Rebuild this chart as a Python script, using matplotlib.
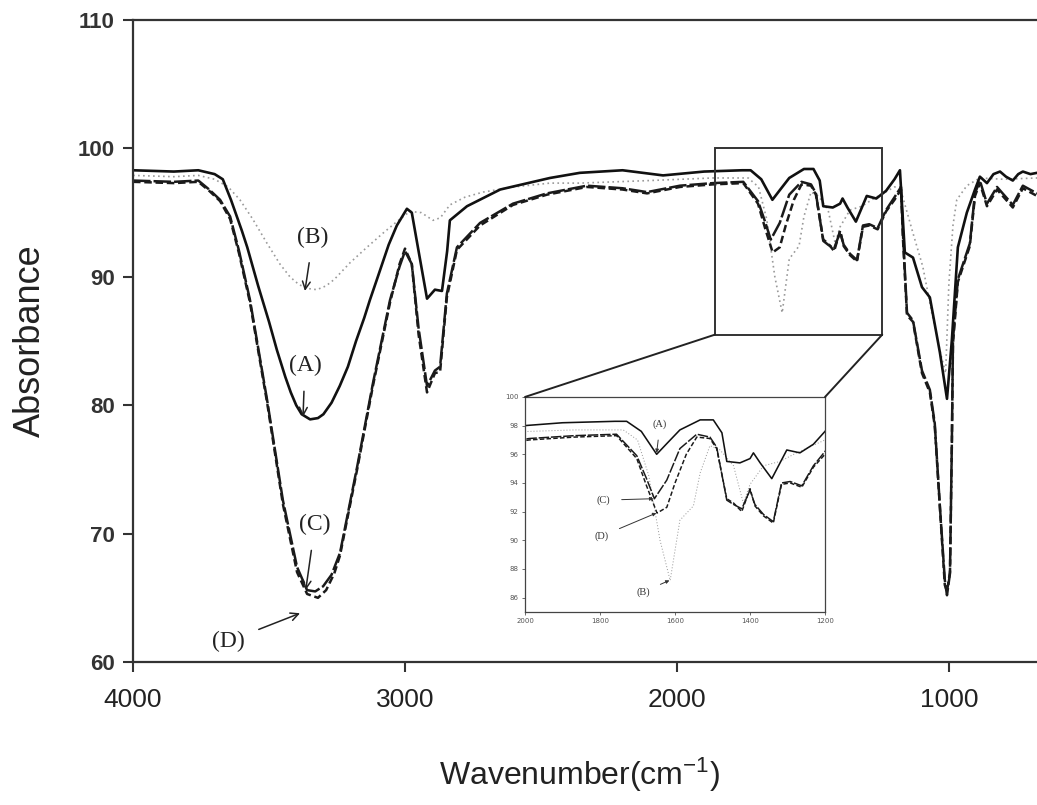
import matplotlib
matplotlib.use("Agg")
import matplotlib.pyplot as plt
from matplotlib.patches import Rectangle, ConnectionPatch

# FTIR spectra (wavenumber in cm-1, descending)
wn_a = [4000, 3850, 3760, 3700, 3670, 3640, 3600, 3580, 3540, 3500, 3471, 3440, 3420, 3400,
        3380, 3349, 3320, 3300, 3270, 3240, 3210, 3180, 3150, 3129, 3100, 3060, 3030, 2993,
        2975, 2950, 2919, 2890, 2864, 2845, 2835, 2772, 2650, 2467, 2357,
        2200, 2051, 1900, 1760, 1729, 1690, 1649, 1620, 1587, 1533, 1498, 1475, 1462, 1427,
        1400, 1391, 1373, 1342, 1302, 1267, 1231, 1200, 1180, 1162, 1132, 1099, 1070, 1033,
        1007, 989, 967, 934, 904, 886, 860, 836, 812, 790, 765, 745, 728, 700, 676]
abs_a = [98.3, 98.2, 98.3, 98.0, 97.6, 96.0, 93.6, 92.3, 89.3, 86.5, 84.3, 82.2, 81.0, 80.0,
         79.3, 78.9, 79.0, 79.3, 80.2, 81.5, 83.0, 85.0, 86.8, 88.2, 90.0, 92.5, 94.0, 95.3,
         95.0, 92.0, 88.3, 89.0, 88.9, 92.0, 94.4, 95.5, 96.8, 97.7, 98.1,
         98.3, 97.9, 98.2, 98.3, 98.3, 97.6, 96.0, 96.8, 97.7, 98.4, 98.4, 97.5, 95.5, 95.4,
         95.7, 96.1, 95.4, 94.3, 96.3, 96.1, 96.7, 97.6, 98.3, 91.9, 91.5, 89.2, 88.4, 84.1,
         80.5, 85.1, 92.3, 95.0, 96.8, 97.8, 97.3, 98.0, 98.2, 97.8, 97.5, 98.0, 98.2, 98.0, 98.1]

wn_b = [4000, 3850, 3760, 3700, 3650, 3607, 3560, 3507, 3460, 3423, 3390, 3360, 3324, 3290,
        3260, 3202, 3140, 3081, 3030, 2982, 2940, 2897, 2870, 2835, 2780, 2713, 2600, 2467,
        2357, 2100, 1868, 1738, 1700, 1670, 1640, 1613,
        1587, 1551, 1533, 1507, 1480, 1444, 1418, 1400, 1364, 1320, 1276, 1200, 1180, 1132,
        1096, 1063, 1030, 1012, 1000, 985, 971, 934, 886, 800, 676]
abs_b = [97.9, 97.8, 97.9, 97.6, 97.0, 96.0, 94.5, 92.6, 91.0, 90.0, 89.4, 89.1, 89.0, 89.3,
         89.8, 91.1, 92.3, 93.4, 94.3, 95.1, 95.0, 94.4, 94.6, 95.6, 96.2, 96.6, 97.0, 97.3,
         97.3, 97.5, 97.7, 97.7, 97.0, 94.5, 90.0, 87.2,
         91.4, 92.4, 94.7, 96.6, 96.3, 95.2, 92.6, 93.9, 95.2, 95.5, 96.1, 97.0, 97.0, 93.4,
         90.8, 87.2, 84.0, 82.5, 89.5, 94.0, 96.0, 97.1, 97.7, 97.6, 97.7]

wn_c = [4000, 3850, 3760, 3720, 3680, 3643, 3610, 3570, 3507, 3449, 3397, 3360, 3330, 3301,
        3270, 3239, 3176, 3118, 3055, 3020, 3000, 2975, 2950, 2919, 2890, 2871, 2846, 2809,
        2724, 2603, 2478, 2331,
        2200, 2110, 1989, 1868, 1756, 1702, 1676, 1655, 1622, 1587, 1542, 1507, 1489, 1462,
        1444, 1422, 1400, 1387, 1364, 1338, 1316, 1293, 1262, 1231, 1200, 1176, 1169, 1154,
        1132, 1099, 1070, 1052, 1033, 1015, 1007, 996, 989, 985, 967, 923, 904, 886, 860,
        823, 765, 728, 676]
abs_c = [97.5, 97.4, 97.5, 96.8, 96.0, 94.7, 92.0, 88.2, 80.4, 72.6, 67.4, 65.6, 65.5, 65.9,
         66.8, 68.5, 75.2, 81.7, 88.2, 90.8, 92.0, 91.0, 86.0, 81.5, 82.7, 83.0, 88.7, 92.3,
         94.2, 95.7, 96.5, 97.1,
         96.9, 96.6, 97.1, 97.3, 97.4, 95.9, 94.3, 92.9, 94.2, 96.4, 97.4, 97.2, 96.5, 92.8,
         92.5, 92.2, 93.5, 92.5, 91.8, 91.3, 94.0, 94.1, 93.8, 95.2, 96.2, 97.0, 93.4, 87.2,
         86.6, 82.7, 81.2, 78.6, 72.1, 66.4, 65.2, 66.9, 77.3, 85.1, 89.8, 92.6, 96.5, 97.5, 95.7,
         97.0, 95.6, 97.1, 96.5]

wn_d = [4000, 3850, 3760, 3720, 3680, 3643, 3610, 3570, 3507, 3449, 3397, 3360, 3320, 3290,
        3260, 3239, 3176, 3118, 3055, 3020, 3000, 2975, 2950, 2919, 2890, 2871, 2846, 2809,
        2724, 2603, 2478, 2331,
        2200, 2110, 1989, 1868, 1756, 1702, 1676, 1648, 1622, 1600, 1570, 1542, 1507, 1489,
        1462, 1444, 1422, 1400, 1387, 1364, 1338, 1316, 1293, 1262, 1231, 1200, 1176, 1169,
        1154, 1132, 1099, 1070, 1052, 1033, 1015, 1007, 996, 989, 985, 967, 923, 904, 886,
        860, 823, 765, 728, 676]
abs_d = [97.4, 97.3, 97.4, 96.7, 95.9, 94.5, 91.8, 88.0, 80.2, 72.3, 67.0, 65.3, 65.0, 65.6,
         66.9, 68.3, 75.0, 81.5, 88.0, 91.0, 92.2, 91.0, 85.5, 81.0, 82.5, 82.6, 88.4, 92.1,
         94.0, 95.6, 96.4, 97.0,
         96.8, 96.5, 97.0, 97.2, 97.3, 95.7, 93.8, 91.9, 92.3, 94.0, 96.0, 97.2, 97.1, 96.4,
         92.9, 92.6, 92.0, 93.6, 92.4, 91.7, 91.2, 93.9, 94.0, 93.7, 95.1, 96.0, 96.8, 93.0,
         87.0, 86.5, 82.5, 81.0, 78.4, 72.0, 66.0, 65.5, 67.0, 77.0, 84.8, 89.6, 92.4, 96.3,
         97.3, 95.5, 96.8, 95.4, 96.9, 96.3]

x_ticks = [4000, 3000, 2000, 1000]
y_ticks = [60, 70, 80, 90, 100, 110]
inset_x_ticks = [2000, 1800, 1600, 1400, 1200]
inset_y_ticks = [86, 88, 90, 92, 94, 96, 98, 100]

# label positions: (text, text xy, arrow tip xy)
main_labels = [("(B)", (3338, 93.1), (3368, 88.9)),
               ("(A)", (3368, 83.1), (3375, 79.1)),
               ("(C)", (3331, 70.7), (3365, 65.6)),
               ("(D)", (3651, 61.6), (3386, 63.8))]
inset_labels = [("(A)", (1640, 98.1), (1649, 96.1)),
                ("(C)", (1790, 92.8), (1658, 92.9)),
                ("(D)", (1795, 90.3), (1650, 91.9)),
                ("(B)", (1685, 86.4), (1615, 87.2))]

serif = ["Liberation Serif", "DejaVu Serif"]
sans = ["Liberation Sans", "DejaVu Sans"]
plt.rcParams["mathtext.fontset"] = "custom"
plt.rcParams["mathtext.rm"] = "Liberation Sans"
plt.rcParams["mathtext.it"] = "Liberation Sans"

fig = plt.figure(figsize=(10.37, 8.05), dpi=100)
ax = fig.add_axes([0.1283, 0.1776, 0.8717, 0.7975])


def draw_spectra(axis, scale):
    axis.plot(wn_b, abs_b, color="#9a9a9a", lw=1.2 * scale, ls=(0, (1, 2)))
    axis.plot(wn_d, abs_d, color="#1a1a1a", lw=1.8 * scale, ls=(0, (3, 1.5)))
    axis.plot(wn_c, abs_c, color="#1a1a1a", lw=1.8 * scale, ls=(0, (7, 1.2)))
    axis.plot(wn_a, abs_a, color="#111111", lw=1.9 * scale)


draw_spectra(ax, 1.0)
ax.set_xlim(4000, 676)
ax.set_ylim(60, 110)
ax.set_xticks(x_ticks)
ax.set_yticks(y_ticks)
ax.spines["right"].set_visible(False)
for s in ["left", "bottom", "top"]:
    ax.spines[s].set_linewidth(1.6)
    ax.spines[s].set_color("#333333")
ax.tick_params(direction="out", length=7, width=1.5, color="#333333")
ax.tick_params(axis="x", pad=12)
ax.tick_params(axis="y", pad=6)
for lab in ax.get_yticklabels():
    lab.set_fontfamily(sans)
    lab.set_fontweight("bold")
    lab.set_fontsize(16)
    lab.set_color("#333333")
for lab in ax.get_xticklabels():
    lab.set_fontfamily(sans)
    lab.set_fontsize(19)
    lab.set_color("#222222")

ax.set_ylabel("Absorbance", fontsize=26, family=sans, color="#222222", va="center")
ax.yaxis.set_label_coords(-0.114, 0.5)
ax.set_xlabel(r"Wavenumber(cm$^{\mathregular{-1}}$)", fontsize=23, family=sans,
              color="#222222", va="center")
ax.xaxis.set_label_coords(0.494, -0.176)

for txt, xy_t, xy_a in main_labels:
    ax.annotate(txt, xy=xy_a, xytext=xy_t, ha="center", va="center", fontsize=17,
                family=serif, color="#222222",
                arrowprops=dict(arrowstyle="->", color="#222222", lw=1.1,
                                shrinkA=9, shrinkB=0, mutation_scale=14))

# zoom box on the main plot
box_x0, box_x1, box_y0, box_y1 = 1860, 1245, 85.5, 100
ax.add_patch(Rectangle((box_x0, box_y0), box_x1 - box_x0, box_y1 - box_y0,
                       fill=False, ec="#333333", lw=1.4, zorder=5))

# inset
ax_in = fig.add_axes([0.5063, 0.2398, 0.2893, 0.2671])
draw_spectra(ax_in, 0.6)
ax_in.set_xlim(2000, 1200)
ax_in.set_ylim(85, 100)
ax_in.set_xticks(inset_x_ticks)
ax_in.set_yticks(inset_y_ticks)
ax_in.tick_params(direction="out", length=2.5, width=0.6, labelsize=5,
                  labelcolor="#555555", color="#555555", pad=2)
for s in ax_in.spines.values():
    s.set_linewidth(0.9)
    s.set_color("#444444")
for txt, xy_t, xy_a in inset_labels:
    ax_in.annotate(txt, xy=xy_a, xytext=xy_t, ha="center", va="center", fontsize=7.5,
                   family=serif, color="#333333",
                   arrowprops=dict(arrowstyle="-|>", color="#333333", lw=0.7,
                                   shrinkA=6, shrinkB=0, mutation_scale=5))

for xa, xb in [(box_x0, 0), (box_x1, 1)]:
    con = ConnectionPatch(xyA=(xa, box_y0), coordsA=ax.transData,
                          xyB=(xb, 1), coordsB=ax_in.transAxes,
                          color="#222222", lw=1.4)
    fig.add_artist(con)

fig.savefig("out.png", dpi=100)
